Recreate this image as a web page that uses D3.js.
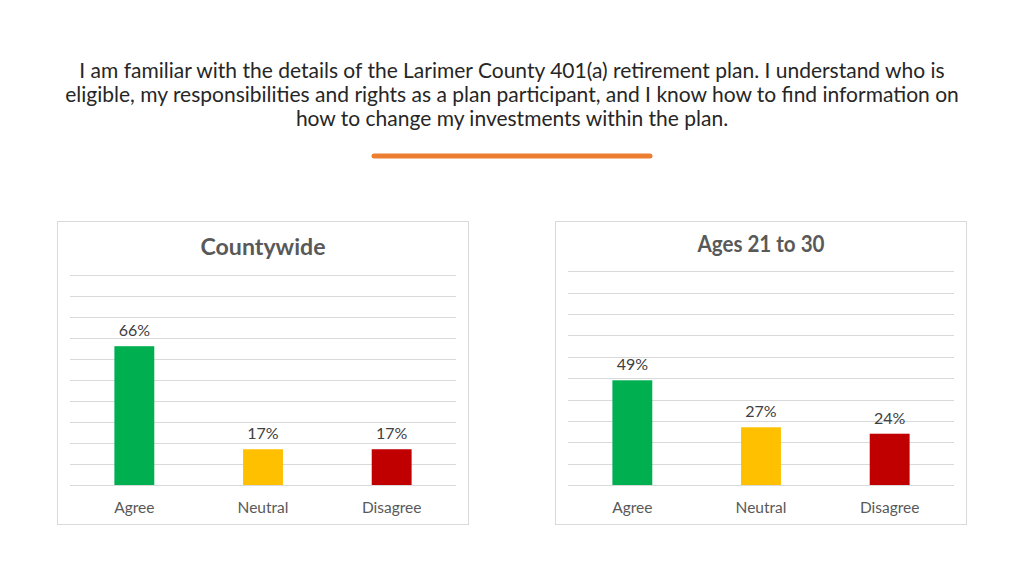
<!DOCTYPE html>
<html><head><meta charset="utf-8">
<script src="https://cdn.jsdelivr.net/npm/d3@7"></script>
<style>body{margin:0;background:#fff}svg{display:block}</style>
</head><body>
<svg id="c" width="1024" height="576"></svg>
<script>
const titleLines = [
  "I am familiar with the details of the Larimer County 401(a) retirement plan. I understand who is",
  "eligible, my responsibilities and rights as a plan participant, and I know how to find information on",
  "how to change my investments within the plan."
];
const categories = ["Agree", "Neutral", "Disagree"];
const countywideValues = [66, 17, 17];
const ages21to30Values = [49, 27, 24];
const panelTitles = ["Countywide", "Ages 21 to 30"];
const gridTicks = [0,10,20,30,40,50,60,70,80,90,100];
const barColors = ["#00B050", "#FFC000", "#C00000"];

const svg = d3.select("#c");
const font = "Lato, 'Open Sans', sans-serif";

svg.selectAll("text.t").data(titleLines).enter().append("text")
  .attr("x", 512).attr("y", (d,i)=>78 + i*24)
  .attr("text-anchor","middle").attr("font-family",font).attr("font-size",21)
  .attr("fill","#262626").text(d=>d);

svg.append("line").attr("x1",374).attr("x2",650).attr("y1",156).attr("y2",156)
  .attr("stroke","#ED7D31").attr("stroke-width",5).attr("stroke-linecap","round");

const panels = [
  {x0:57, title:panelTitles[0], values:countywideValues, top:274.7, titleY:255, tw:125},
  {x0:555, title:panelTitles[1], values:ages21to30Values, top:271.3, titleY:252, tw:127}
];

panels.forEach(p=>{
  const g = svg.append("g");
  g.append("rect").attr("x",p.x0+0.5).attr("y",221.5).attr("width",411).attr("height",303)
    .attr("fill","#fff").attr("stroke","#d9d9d9").attr("stroke-width",1);
  g.append("text").attr("x",p.x0+206).attr("y",p.titleY).attr("text-anchor","middle")
    .attr("font-family",font).attr("font-weight","bold").attr("font-size",23.5)
    .attr("textLength",p.tw).attr("lengthAdjust","spacingAndGlyphs")
    .attr("fill","#595959").text(p.title);
  const x = d3.scaleBand().domain(categories).range([p.x0+13, p.x0+399]).paddingInner(0.69).paddingOuter(0.345);
  const y = d3.scaleLinear().domain([0,100]).range([485, p.top]);
  g.selectAll("line.g").data(gridTicks).enter().append("line")
    .attr("x1",p.x0+13).attr("x2",p.x0+399)
    .attr("y1",d=>Math.round(y(d))+0.5).attr("y2",d=>Math.round(y(d))+0.5)
    .attr("stroke","#d9d9d9").attr("stroke-width",1);
  g.selectAll("rect.b").data(p.values).enter().append("rect")
    .attr("x",(d,i)=>x(categories[i])).attr("width",x.bandwidth())
    .attr("y",d=>y(d)).attr("height",d=>485-y(d))
    .attr("fill",(d,i)=>barColors[i]);
  g.selectAll("text.v").data(p.values).enter().append("text")
    .attr("x",(d,i)=>x(categories[i])+x.bandwidth()/2).attr("y",d=>y(d)-10)
    .attr("text-anchor","middle").attr("font-family",font).attr("font-size",16)
    .attr("fill","#404040").text(d=>d+"%");
  g.selectAll("text.c").data(categories).enter().append("text")
    .attr("x",d=>x(d)+x.bandwidth()/2).attr("y",513)
    .attr("text-anchor","middle").attr("font-family",font).attr("font-size",15.5)
    .attr("fill","#595959").text(d=>d);
});
</script>
</body></html>
